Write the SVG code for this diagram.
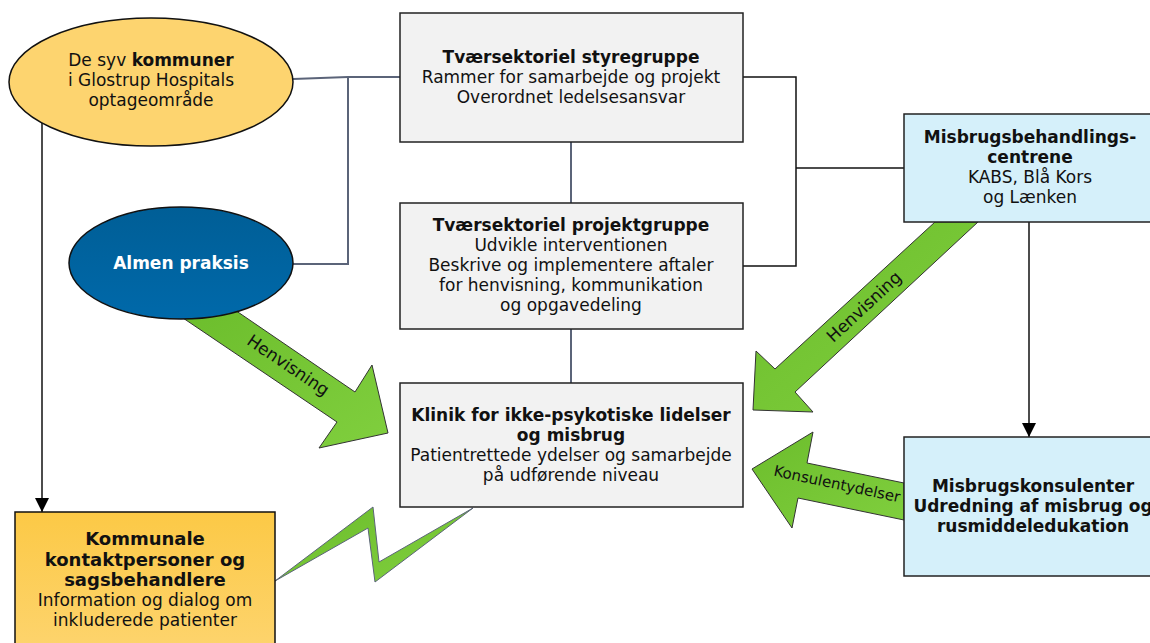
<svg xmlns="http://www.w3.org/2000/svg" width="1150" height="643" viewBox="0 0 1150 643">
<defs>
<linearGradient id="g" x1="0" y1="0" x2="1" y2="1"><stop offset="0" stop-color="#6CBD2C"/><stop offset="1" stop-color="#80CF3E"/></linearGradient>
<linearGradient id="o" x1="0" y1="0" x2="0" y2="1"><stop offset="0" stop-color="#FCC946"/><stop offset="1" stop-color="#FDD46E"/></linearGradient>
<linearGradient id="b" x1="0" y1="0" x2="0" y2="1"><stop offset="0" stop-color="#005E96"/><stop offset="1" stop-color="#0069AA"/></linearGradient>
<marker id="ah" viewBox="0 0 10 10" refX="10" refY="5" markerWidth="14" markerHeight="14" markerUnits="userSpaceOnUse" orient="auto"><path d="M0,0 L10,5 L0,10 Z" fill="#000"/></marker>
</defs>
<style>
text{font-family:"DejaVu Sans",Verdana,sans-serif;font-size:17px;fill:#111;text-anchor:middle}
.bd{font-weight:bold}
.box{fill:#F2F2F2;stroke:#222;stroke-width:1.5}
.blue{fill:#D5F0FA;stroke:#222;stroke-width:1.5}
.slate{stroke:#5B6479;stroke-width:2;fill:none}
.blk{stroke:#111;stroke-width:1.5;fill:none}
.arr{fill:url(#g);stroke:#333;stroke-width:1}
.lbl{font-size:17px;fill:#111}
</style>
<g id="connectors">
<polyline class="slate" points="293,79 348,77 400,77"/>
<polyline class="slate" points="293,264 348,264 348,77"/>
<line class="slate" x1="571" y1="142" x2="571" y2="203"/>
<line class="slate" x1="571" y1="329" x2="571" y2="383"/>
<polyline class="blk" points="743,77 796,77 796,266 743,266"/>
<line class="blk" x1="796" y1="168" x2="904" y2="168"/>
<line class="blk" x1="1029" y1="222" x2="1029" y2="437" marker-end="url(#ah)"/>
<line class="blk" x1="42" y1="123" x2="42" y2="512" marker-end="url(#ah)"/>
<polygon class="arr" points="180,316 232,308 355,392 372,365 388,433 319,448 337,422"/>
<text class="lbl" transform="translate(285,370) rotate(34)">Henvisning</text>
<polygon class="arr" points="935,222 978,222 795,392 813,412 753,410 756,351 775,369"/>
<text class="lbl" transform="translate(868,311) rotate(-43)">Henvisning</text>
<polygon class="arr" points="904,483 807,463 813,432 752,469 792,528 798,498 904,520"/>
<text class="lbl" transform="translate(836,489) rotate(12)" style="font-size:15px">Konsulentydelser</text>
<polygon points="275,581 373,507 379,562 473,508 375,582 368,528" fill="url(#g)" stroke="#5B6479" stroke-width="1"/>
</g>
<g id="kommuner">
<ellipse cx="151" cy="82" rx="142" ry="64" fill="#FDD46F" stroke="#111" stroke-width="1.5"/>
<text x="151" y="66">De syv <tspan class="bd">kommuner</tspan></text>
<text x="151" y="86">i Glostrup Hospitals</text>
<text x="151" y="106">optageområde</text>
</g>
<g id="almen">
<ellipse cx="181" cy="263" rx="112" ry="56" fill="url(#b)" stroke="#111" stroke-width="1.5"/>
<text x="181" y="269" class="bd" style="fill:#fff">Almen praksis</text>
</g>
<g id="styregruppe">
<rect class="box" x="400" y="13" width="343" height="129"/>
<text x="571" y="63" class="bd">Tværsektoriel styregruppe</text>
<text x="571" y="83">Rammer for samarbejde og projekt</text>
<text x="571" y="103">Overordnet ledelsesansvar</text>
</g>
<g id="projektgruppe">
<rect class="box" x="400" y="203" width="343" height="126"/>
<text x="571" y="231" class="bd">Tværsektoriel projektgruppe</text>
<text x="571" y="251">Udvikle interventionen</text>
<text x="571" y="271">Beskrive og implementere aftaler</text>
<text x="571" y="291">for henvisning, kommunikation</text>
<text x="571" y="311">og opgavedeling</text>
</g>
<g id="klinik">
<rect class="box" x="400" y="383" width="343" height="124"/>
<text x="571" y="421" class="bd">Klinik for ikke-psykotiske lidelser</text>
<text x="571" y="441" class="bd">og misbrug</text>
<text x="571" y="461">Patientrettede ydelser og samarbejde</text>
<text x="571" y="481">på udførende niveau</text>
</g>
<g id="behandlingscentre">
<rect class="blue" x="904" y="114" width="254" height="108"/>
<text x="1030" y="143" class="bd">Misbrugsbehandlings-</text>
<text x="1030" y="163" class="bd">centrene</text>
<text x="1030" y="183">KABS, Blå Kors</text>
<text x="1030" y="203">og Lænken</text>
</g>
<g id="konsulenter">
<rect class="blue" x="904" y="437" width="262" height="139"/>
<text x="1033" y="492" class="bd">Misbrugskonsulenter</text>
<text x="1033" y="512" class="bd">Udredning af misbrug og</text>
<text x="1033" y="532" class="bd">rusmiddeledukation</text>
</g>
<g id="kommunale">
<rect x="15" y="512" width="260" height="140" fill="url(#o)" stroke="#111" stroke-width="1.5"/>
<text x="145" y="545" class="bd" style="font-size:18px">Kommunale</text>
<text x="145" y="566" class="bd" style="font-size:18px">kontaktpersoner og</text>
<text x="145" y="586" class="bd" style="font-size:18px">sagsbehandlere</text>
<text x="145" y="606">Information og dialog om</text>
<text x="145" y="626">inkluderede patienter</text>
</g>
</svg>
